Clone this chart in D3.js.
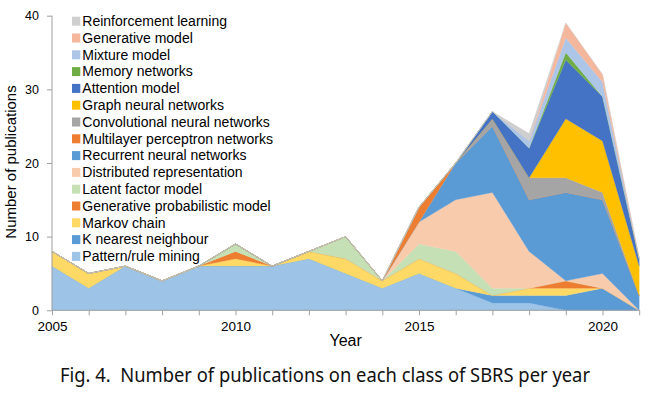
<!DOCTYPE html>
<html>
<head>
<meta charset="utf-8">
<script src="https://cdn.jsdelivr.net/npm/d3@7"></script>
<style>
  body { margin: 0; background: #fff; }
  svg { display: block; }
  svg text { font-family: 'Liberation Sans', Arial, sans-serif; }
  .axis text { fill: #000; }
  .axis path, .axis line { stroke: #a0a0a0; }
</style>
</head>
<body>
<div id="chart"></div>
<script>
// years on the x axis
var years = [2005, 2006, 2007, 2008, 2009, 2010, 2011, 2012, 2013, 2014, 2015, 2016, 2017, 2018, 2019, 2020, 2021];

// publications per class, one value per year
var patternRule    = [6, 3, 6, 4, 6, 6, 6, 7, 5, 3, 5, 3, 1, 1, 0, 0, 0];
var kNearest       = [0, 0, 0, 0, 0, 0, 0, 0, 0, 0, 0, 0, 1, 1, 2, 3, 0];
var markovChain    = [2, 2, 0, 0, 0, 1, 0, 1, 2, 1, 2, 2, 0, 1, 1, 0, 0];
var genProbModel   = [0, 0, 0, 0, 0, 1, 0, 0, 0, 0, 0, 0, 0, 0, 1, 0, 0];
var latentFactor   = [0, 0, 0, 0, 0, 1, 0, 0, 3, 0, 2, 3, 1, 0, 0, 0, 0];
var distributedRep = [0, 0, 0, 0, 0, 0, 0, 0, 0, 0, 3, 7, 13, 5, 0, 2, 0];
var recurrentNN    = [0, 0, 0, 0, 0, 0, 0, 0, 0, 0, 0, 5, 9, 7, 12, 10, 2];
var multilayerNN   = [0, 0, 0, 0, 0, 0, 0, 0, 0, 0, 2, 0, 0, 0, 0, 0, 0];
var convNN         = [0, 0, 0, 0, 0, 0, 0, 0, 0, 0, 0, 0, 1, 3, 2, 1, 0];
var graphNN        = [0, 0, 0, 0, 0, 0, 0, 0, 0, 0, 0, 0, 0, 0, 8, 7, 4];
var attentionModel = [0, 0, 0, 0, 0, 0, 0, 0, 0, 0, 0, 0, 1, 4, 8, 6, 1];
var memoryNet      = [0, 0, 0, 0, 0, 0, 0, 0, 0, 0, 0, 0, 0, 0, 1, 0, 0];
var mixtureModel   = [0, 0, 0, 0, 0, 0, 0, 0, 0, 0, 0, 0, 0, 1, 2, 2, 0];
var generativeMod  = [0, 0, 0, 0, 0, 0, 0, 0, 0, 0, 0, 0, 0, 0, 2, 1, 0];
var reinforcement  = [0, 0, 0, 0, 0, 0, 0, 0, 0, 0, 0, 0, 0, 1, 0, 0, 0];

// stacking order, bottom to top
var seriesNames = ["Pattern/rule mining", "K nearest neighbour", "Markov chain",
    "Generative probabilistic model", "Latent factor model", "Distributed representation",
    "Recurrent neural networks", "Multilayer perceptron networks", "Convolutional neural networks",
    "Graph neural networks", "Attention model", "Memory networks", "Mixture model",
    "Generative model", "Reinforcement learning"];
var seriesValues = [patternRule, kNearest, markovChain, genProbModel, latentFactor, distributedRep,
    recurrentNN, multilayerNN, convNN, graphNN, attentionModel, memoryNet, mixtureModel,
    generativeMod, reinforcement];
var seriesColors = ["#9dc3e6", "#5b9bd5", "#ffd966", "#ed7d31", "#c5e0b4", "#f8cbad",
    "#5b9bd5", "#ed7d31", "#a5a5a5", "#ffc000", "#4472c4", "#70ad47", "#adc6e8",
    "#f4b79c", "#cfcfcf"];

var yTicks = [0, 10, 20, 30, 40];
var xLabelYears = [2005, 2010, 2015, 2020];

var W = 648, H = 395,
    margin = {top: 15.7, right: 8.8, bottom: 84.7, left: 52},
    w = W - margin.left - margin.right,
    h = H - margin.top - margin.bottom;

// rows for d3.stack
var rows = years.map(function(y, i) {
    var r = {year: y};
    seriesNames.forEach(function(n, k) { r[n] = seriesValues[k][i]; });
    return r;
});
var stacked = d3.stack().keys(seriesNames)(rows);

var color = d3.scaleOrdinal().domain(seriesNames).range(seriesColors);

var svg = d3.select("#chart").append("svg")
    .attr("width", W)
    .attr("height", H);
var g = svg.append("g")
    .attr("transform", "translate(" + margin.left + "," + margin.top + ")");

var x = d3.scaleLinear().domain([2005, 2021]).range([0, w]);
var y = d3.scaleLinear().domain([0, 40]).range([h, 0]);

var area = d3.area()
    .x(function(d) { return x(d.data.year); })
    .y0(function(d) { return y(d[0]); })
    .y1(function(d) { return y(d[1]); });

g.selectAll(".layer")
    .data(stacked)
    .enter().append("path")
    .attr("class", "layer")
    .attr("d", area)
    .style("fill", function(d) { return color(d.key); })
    .style("stroke", function(d) { return color(d.key); })
    .style("stroke-width", 0.3);

// y axis
var yAxis = g.append("g")
    .attr("class", "axis")
    .call(d3.axisLeft(y).tickValues(yTicks).tickSize(5).tickPadding(8));
yAxis.selectAll("text").style("font-size", "12.5px").style("font-family", null);

// x axis, tick on every year, labels every five
var xAxis = g.append("g")
    .attr("class", "axis")
    .attr("transform", "translate(0," + h + ")")
    .call(d3.axisBottom(x).tickValues(years).tickSize(5).tickPadding(6)
        .tickFormat(function(d) { return xLabelYears.indexOf(d) >= 0 ? d : ""; }));
xAxis.selectAll("text").style("font-size", "13.5px");
xAxis.select(".domain").attr("d", "M0,0H" + w);
yAxis.select(".domain").attr("d", "M0," + h + "V0");
// d3 axes set font-family on the group; drop it so the css font applies
xAxis.attr("font-family", null);
yAxis.attr("font-family", null);

// axis titles
svg.append("text")
    .attr("x", margin.left + w / 2)
    .attr("y", 346)
    .attr("text-anchor", "middle")
    .style("font-size", "16px")
    .text("Year");

svg.append("text")
    .attr("transform", "translate(16," + 162 + ") rotate(-90)")
    .attr("text-anchor", "middle")
    .style("font-size", "15px")
    .text("Number of publications");

// legend, top entry is the last stacked series
var legend = svg.append("g").attr("class", "legend");
var legendOrder = seriesNames.slice().reverse();
legendOrder.forEach(function(n, i) {
    var by = 26 + i * 16.8;
    legend.append("rect")
        .attr("x", 72)
        .attr("y", by - 9.3)
        .attr("width", 8.3)
        .attr("height", 9)
        .style("fill", color(n));
    legend.append("text")
        .attr("x", 82.3)
        .attr("y", by)
        .style("font-size", "14px")
        .text(n);
});

// caption
svg.append("text")
    .attr("x", 325)
    .attr("y", 381.5)
    .attr("text-anchor", "middle")
    .attr("textLength", 530)
    .attr("lengthAdjust", "spacingAndGlyphs")
    .style("font-family", "'Noto Sans', sans-serif")
    .style("font-size", "19px")
    .style("fill", "#111")
    .text("Fig. 4.\u00a0 Number of publications on each class of SBRS per year");
</script>
</body>
</html>
